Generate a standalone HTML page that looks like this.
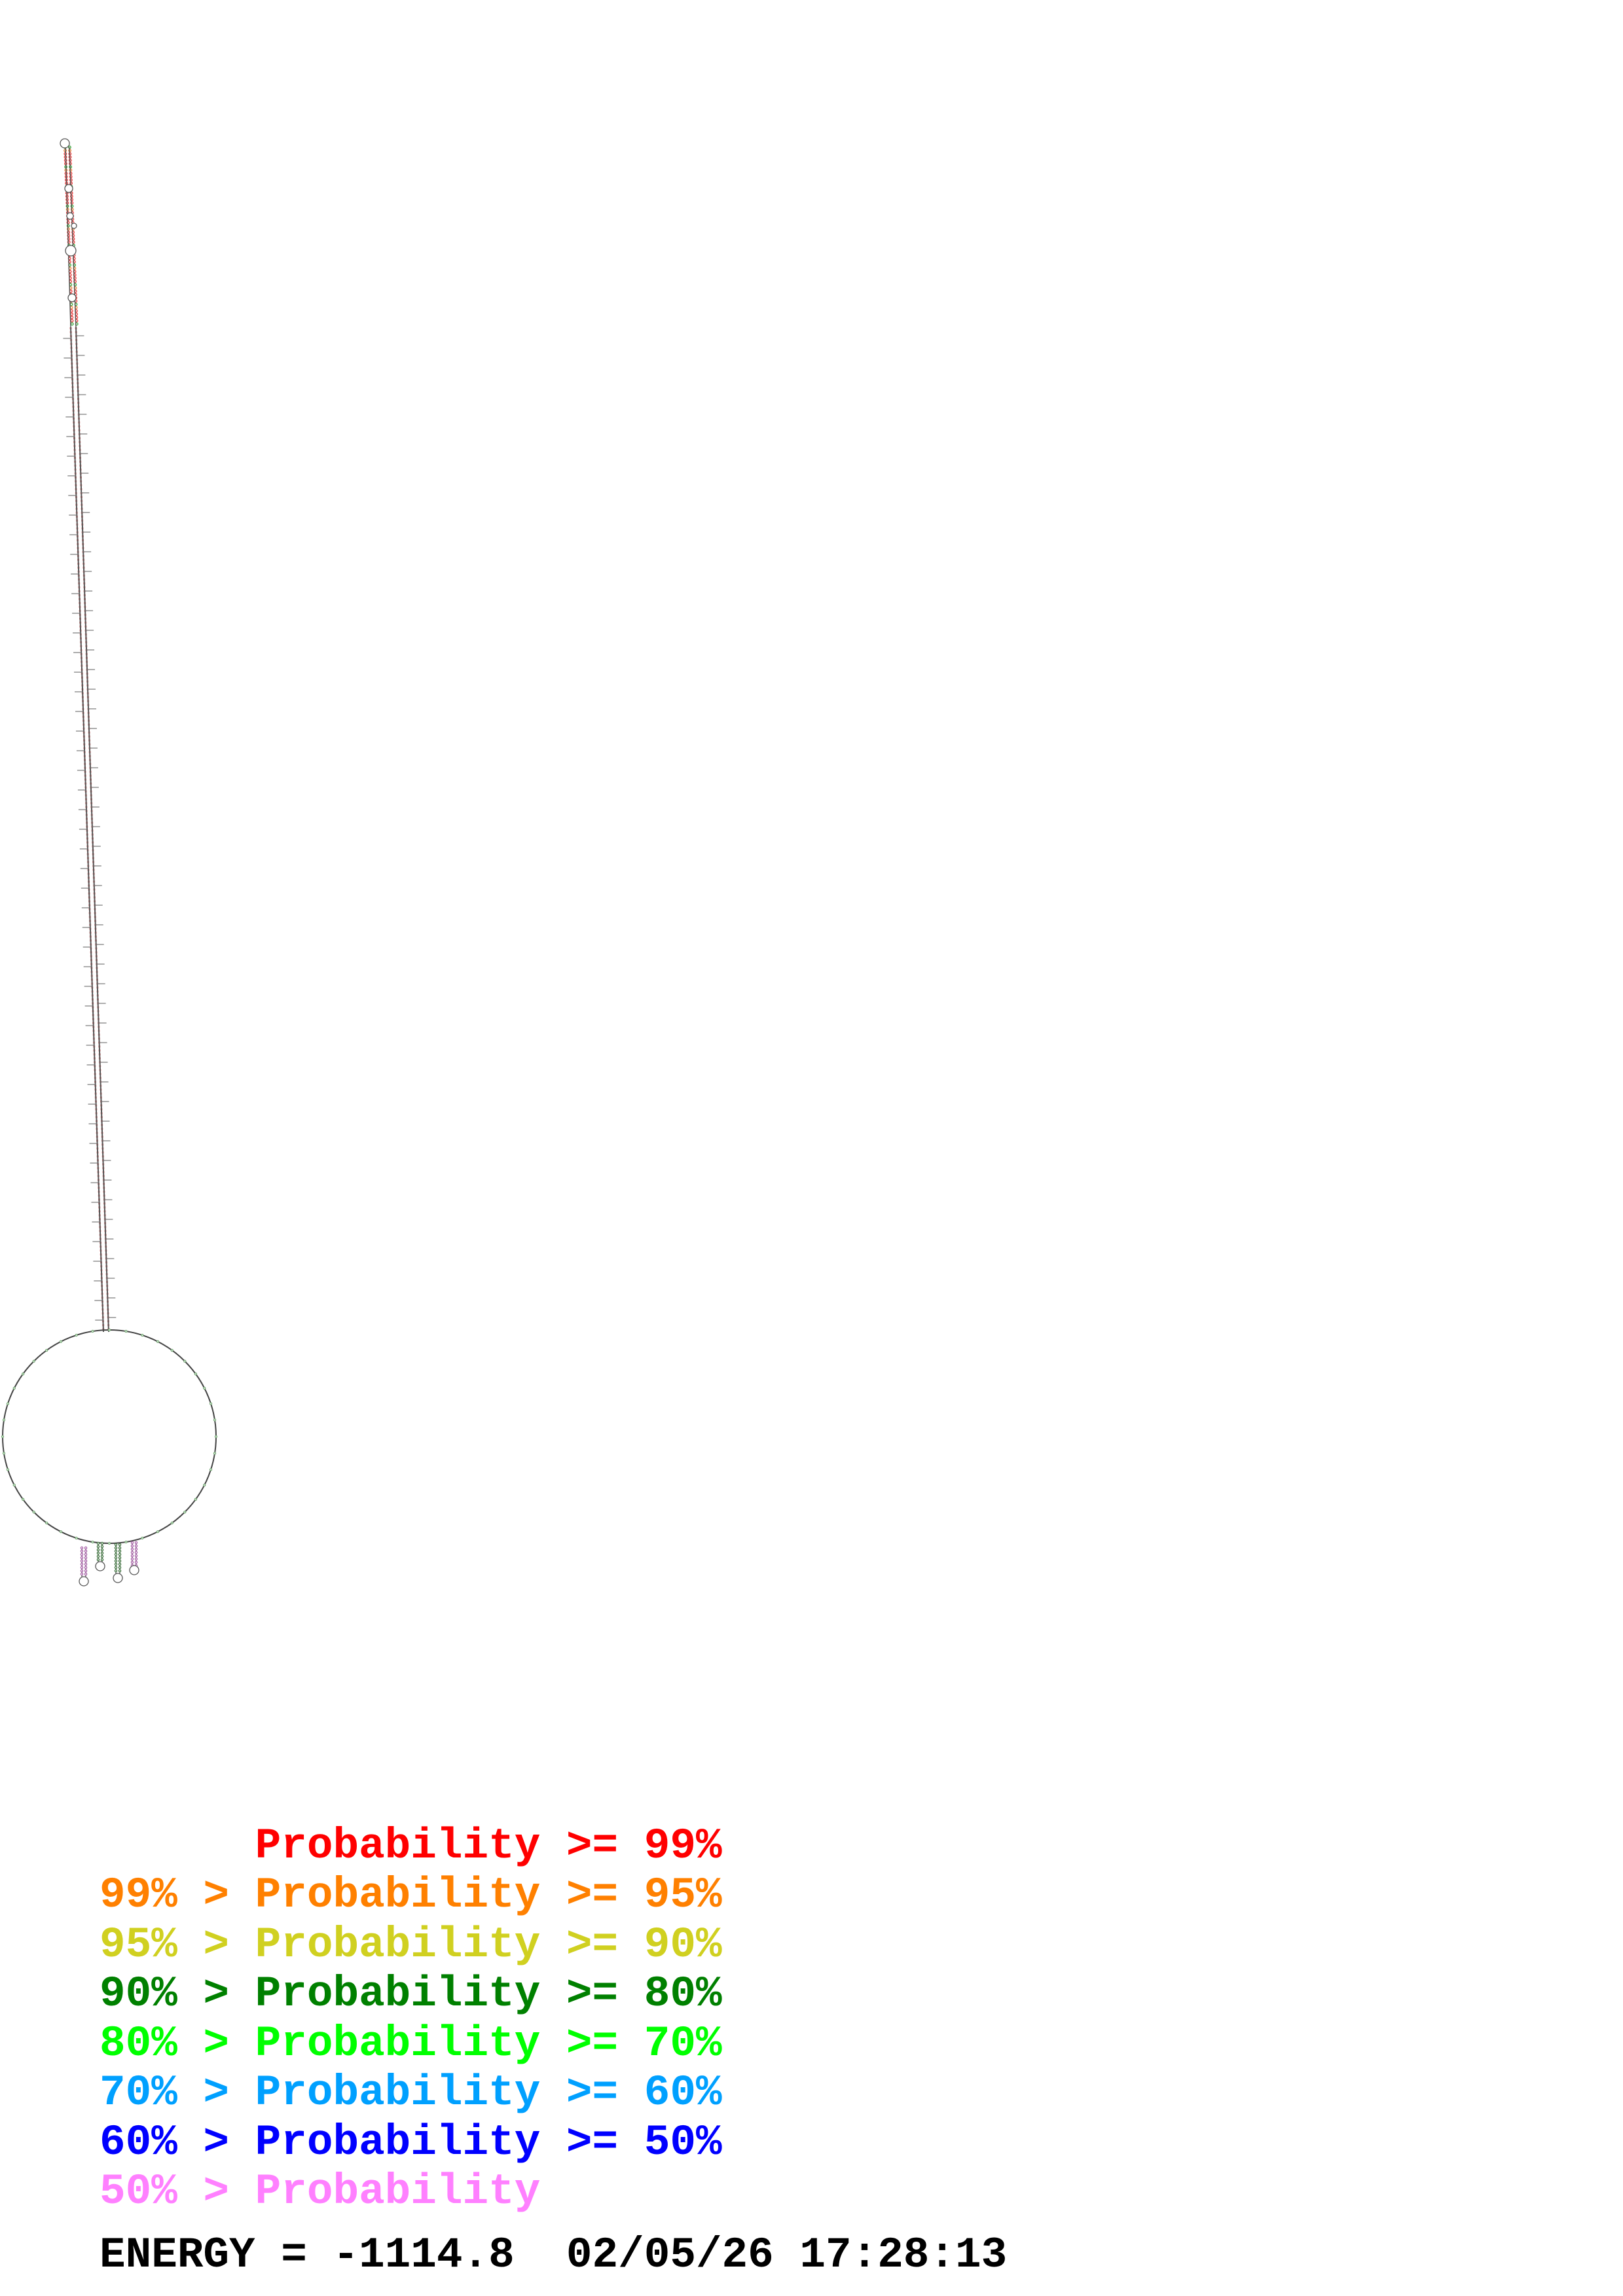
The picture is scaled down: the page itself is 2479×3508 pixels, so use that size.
<!DOCTYPE html>
<html><head><meta charset="utf-8"><style>
html,body{margin:0;padding:0;background:#fff;}
body{width:2479px;height:3508px;position:relative;overflow:hidden;}
.t{position:absolute;left:152px;font-family:"Liberation Mono",monospace;font-weight:bold;font-size:66px;line-height:1;white-space:pre;}
</style></head><body>
<svg id="s" width="2479" height="3508" style="position:absolute;left:0;top:0">
<g fill="none" stroke="#e88" stroke-width="3" stroke-dasharray="3 3">
<line x1="108" y1="500" x2="158" y2="2035"/>
<line x1="116" y1="500" x2="166" y2="2035"/>
</g>
<g fill="none" stroke="#555" stroke-width="2">
<line x1="108" y1="500" x2="158" y2="2035"/>
<line x1="116" y1="500" x2="166" y2="2035"/>
</g>
<circle cx="167" cy="2195" r="163" fill="none" stroke="#444" stroke-width="2"/>
<g id="ticks" stroke="#777" stroke-width="1.2"></g>
<g id="top" fill="#fff" stroke="#666" stroke-width="1.3"></g>
<g id="bot" fill="#fff" stroke="#777" stroke-width="1.3"></g>
</svg>
<div class="t" style="top:2788px;color:#ff0000">      Probability &gt;= 99%</div>
<div class="t" style="top:2863px;color:#ff8000">99% &gt; Probability &gt;= 95%</div>
<div class="t" style="top:2939px;color:#d0d020">95% &gt; Probability &gt;= 90%</div>
<div class="t" style="top:3014px;color:#008000">90% &gt; Probability &gt;= 80%</div>
<div class="t" style="top:3090px;color:#00ff00">80% &gt; Probability &gt;= 70%</div>
<div class="t" style="top:3165px;color:#00a0ff">70% &gt; Probability &gt;= 60%</div>
<div class="t" style="top:3241px;color:#0000ff">60% &gt; Probability &gt;= 50%</div>
<div class="t" style="top:3316px;color:#ff80ff">50% &gt; Probability</div>
<div class="t" style="top:3413px;color:#000">ENERGY = -1114.8  02/05/26 17:28:13</div>
<script>
var NS="http://www.w3.org/2000/svg";
function el(p,n,a){var e=document.createElementNS(NS,n);for(var k in a)e.setAttribute(k,a[k]);document.getElementById(p).appendChild(e);return e;}
for(var y=513;y<2030;y+=30){var x=108+50*(y-500)/1535;
el("ticks","line",{x1:x+8,y1:y,x2:x+20,y2:y});el("ticks","line",{x1:x,y1:y+4,x2:x-12,y2:y+4});}
var cols=["#e44","#e44","#e44","#4a4","#e84","#e44"];
for(var y=225;y<500;y+=5){var dx=(y-215)*0.04;
var c=cols[(y/5|0)%cols.length];
el("top","circle",{cx:99+dx,cy:y,r:1.8,stroke:c});el("top","circle",{cx:106+dx,cy:y,r:1.8,stroke:c});}
el("top","line",{x1:100,y1:225,x2:108,y2:500,stroke:"#555","stroke-width":1.5});
el("top","line",{x1:106,y1:225,x2:116,y2:500,stroke:"#555","stroke-width":1.5});
[[99,219,7],[105,288,6],[108,383,8],[107,330,5],[110,455,6],[113,345,4]].forEach(function(a){el("top","circle",{cx:a[0],cy:a[1],r:a[2],stroke:"#555"});});
for(var i=0;i<40;i++){var a=i/40*2*Math.PI;el("bot","circle",{cx:167+163*Math.cos(a),cy:2195+163*Math.sin(a),r:1.5,stroke:"#7a7"});}
[[128,2365,2410,"#a6a"],[153,2358,2387,"#474"],[180,2360,2405,"#474"],[205,2357,2393,"#a6a"]].forEach(function(h){
el("bot","line",{x1:h[0]-3,y1:h[1],x2:h[0]-3,y2:h[2],stroke:"#555"});el("bot","line",{x1:h[0]+3,y1:h[1],x2:h[0]+3,y2:h[2],stroke:"#555"});
for(var y=h[1];y<h[2];y+=5){el("bot","circle",{cx:h[0]-3,cy:y,r:1.6,stroke:h[3]});el("bot","circle",{cx:h[0]+3,cy:y,r:1.6,stroke:h[3]});}
el("bot","circle",{cx:h[0],cy:h[2]+6,r:7,stroke:"#555"});});
</script>
</body></html>
